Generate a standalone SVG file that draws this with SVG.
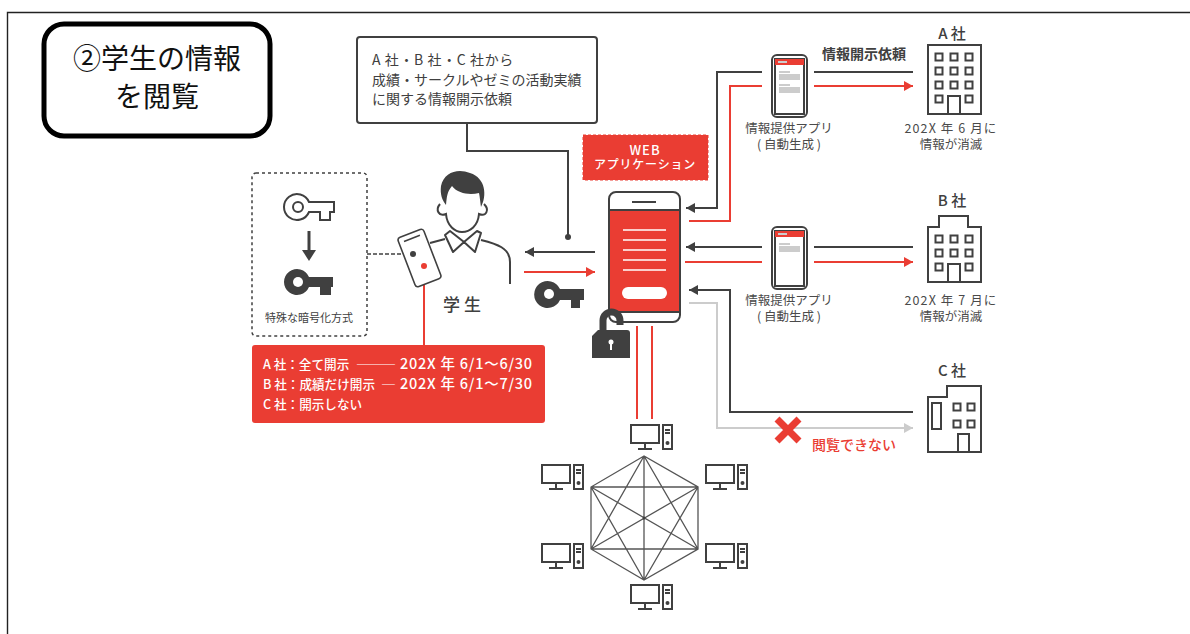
<svg xmlns="http://www.w3.org/2000/svg" width="1190" height="634" viewBox="0 0 1190 634">
<style>
text{font-family:"Noto Sans CJK JP","Noto Sans",sans-serif;fill:#404040}
.c{text-anchor:middle}
.d{fill:none;stroke:#404040;stroke-width:2}
.r{fill:none;stroke:#ea3d33;stroke-width:2}
.g{fill:none;stroke:#cccccc;stroke-width:2}
.w{fill:#fff;stroke:#404040;stroke-width:2}
.f{fill:#404040}
.rf{fill:#ea3d33}
.l{font-size:12.5px;fill:#4a4a4a}
.n{font-size:15px;font-weight:500}
.wt{fill:#fff;font-size:12.6px;font-weight:500}
.dt{fill:#fff;font-size:14.5px;font-weight:500;letter-spacing:.75px}
</style>
<defs>
<symbol id="pc" overflow="visible"><rect class="d" x="1" y="1" width="28" height="18"/><path class="d" d="M15 19v6M8 25h14"/><rect class="d" x="33" y="1" width="9" height="24"/><path class="d" d="M35 6h5M35 9h5" stroke-width="1.5"/><circle cx="37.5" cy="19" r="2" class="f"/></symbol>
<g id="win"><rect class="d" x="-3.5" y="-3.5" width="7" height="7"/></g>
<marker id="ad" markerWidth="10" markerHeight="10" refX="9" refY="5" orient="auto" markerUnits="userSpaceOnUse"><path d="M0 0L9 5L0 10z" fill="#404040"/></marker>
<marker id="ar" markerWidth="10" markerHeight="10" refX="9" refY="5" orient="auto" markerUnits="userSpaceOnUse"><path d="M0 0L9 5L0 10z" fill="#ea3d33"/></marker>
<marker id="ag" markerWidth="10" markerHeight="10" refX="9" refY="5" orient="auto" markerUnits="userSpaceOnUse"><path d="M0 0L9 5L0 10z" fill="#cccccc"/></marker>
</defs>
<rect width="1190" height="634" fill="#fff"/>
<path d="M7.5 634V12.5H1190" fill="none" stroke="#222" stroke-width="1.4"/>

<g id="title"><rect x="44" y="24" width="226" height="112" rx="20" fill="#fff" stroke="#000" stroke-width="5"/>
<text class="c" x="157" y="69" font-size="28" style="fill:#111">②学生の情報</text><text class="c" x="157" y="107" font-size="28" style="fill:#111">を閲覧</text></g>

<g id="connectors">
<path class="d" d="M467 123V151H568V237"/><circle cx="568" cy="237" r="3" class="f"/>
<path class="d" d="M595 252H525" marker-end="url(#ad)"/>
<path class="r" d="M524 272H595" marker-end="url(#ar)"/>
<path class="d" d="M762 72H717V208H686" marker-end="url(#ad)"/>
<path class="r" d="M689 221H730V86H762"/>
<path class="d" d="M762 247H686" marker-end="url(#ad)"/>
<path class="r" d="M685 262H762"/>
<path class="d" d="M814 72H913"/>
<path class="r" d="M814 86H913" marker-end="url(#ar)"/>
<path class="d" d="M814 247H913"/>
<path class="r" d="M814 262H913" marker-end="url(#ar)"/>
<path class="d" d="M913 412H730V290H689" marker-end="url(#ad)"/>
<path class="g" d="M689 303H717V428H913" marker-end="url(#ag)"/>
<path class="r" d="M637 326V419M652 326V419"/>
<path d="M367 254H413" fill="none" stroke="#404040" stroke-width="1.5" stroke-dasharray="4 2"/>
<path class="r" d="M424 266V345"/>
</g>

<g id="request"><rect class="w" x="357" y="37" width="240" height="86" rx="3"/>
<text x="372" y="65" font-size="14" letter-spacing=".6">A 社・B 社・C 社から</text><text x="372" y="85" font-size="14">成績・サークルやゼミの活動実績</text><text x="372" y="104" font-size="14">に関する情報開示依頼</text></g>

<g id="encryption"><rect x="252" y="173" width="115" height="163" rx="4" fill="none" stroke="#404040" stroke-width="1.5" stroke-dasharray="3 3"/>
<path class="d" d="M309 202H334V212H330V220H320V212H309A13 13 0 1 1 309 202Z"/><circle class="d" cx="298" cy="207" r="5"/>
<path d="M309 231V250" stroke="#404040" stroke-width="3"/><path d="M302 250H316L309 261Z" class="f"/>
<path class="f" d="M309 277H333V287H331V295H320V287H309A13 13 0 1 1 309 277Z"/><circle cx="298" cy="282" r="5" fill="#fff"/>
<text class="c" x="309" y="322" font-size="11">特殊な暗号化方式</text></g>

<g id="student">
<path class="d" d="M440 204C435 210 439 217 446 214C447 226 455 232 462 232C470 232 478 226 479 214C486 217 490 210 484 204"/>
<path class="f" d="M446 205C447 196 447 192 452 186C458 194 470 195 479 193C480 198 480 200 481 207C487 196 486 178 470 173C458 168 444 172 441 186C440 194 442 200 446 205Z"/>
<path class="d" stroke-linejoin="round" d="M450 231L445 235L453 252L464 242L475 252L481 233L477 231L464 242Z"/>
<path class="d" d="M430 243L445 239M481 240C497 244 510 248 510 262V284"/>
<g transform="rotate(-21 419.500 258)"><rect x="405.750" y="231.700" width="27.500" height="52.600" rx="3" fill="#fff" stroke="#404040" stroke-width="1.600"/><path d="M411 237H428" stroke="#404040" stroke-width="1.600" fill="none"/></g>
<circle cx="413" cy="254" r="3" class="f"/><circle cx="424" cy="266" r="3" class="rf"/>
<text class="c" x="464" y="311" font-size="17" font-weight="500" letter-spacing="4">学生</text></g>

<g id="disclosure"><rect class="rf" x="252" y="345" width="293" height="78" rx="3"/>
<text class="wt" x="263" y="369">A 社：全て開示</text><text class="wt" x="356" y="369" textLength="40" lengthAdjust="spacingAndGlyphs">―――</text><text class="dt" x="400" y="369">202X 年 6/1～6/30</text>
<text class="wt" x="263" y="389">B 社：成績だけ開示</text><text class="wt" x="381" y="389" textLength="15" lengthAdjust="spacingAndGlyphs">―</text><text class="dt" x="400" y="389">202X 年 6/1～7/30</text>
<text class="wt" x="263" y="409">C 社：開示しない</text></g>

<g id="webapp"><rect class="rf" x="583" y="135" width="125" height="45" stroke="#ea3d33" stroke-dasharray="3 2" fill="#ea3d33"/>
<text class="c wt" x="645" y="155" style="font-size:13px" letter-spacing="1">WEB</text><text class="c wt" x="645" y="169" style="font-size:12px" letter-spacing=".8">アプリケーション</text>
<rect class="w" x="609" y="192" width="71" height="130" rx="7"/><rect class="rf" x="610" y="210" width="69" height="102"/><path class="d" d="M609 210H680M609 312H680M632 202H656" stroke-width="1.500"/>
<path d="M623 230H666M623 240H666M623 250H666M623 260H666M623 270H666" stroke="#fff" stroke-width="1.500"/>
<rect x="622" y="287" width="45" height="12" rx="6" fill="#fff"/>
</g>

<g id="bigkey"><path class="f" d="M560 289H584V300H580V308H571V300H560A13.500 13.500 0 1 1 560 289Z"/><circle cx="549" cy="294" r="5" fill="#fff"/></g>
<g id="lock"><path d="M603 332V320.500A8.500 8.500 0 0 1 620 320.500V325" fill="none" stroke="#404040" stroke-width="7"/><path class="f" d="M592 336L598 330H627Q630 330 630 333V358H592Z"/><circle cx="611" cy="342" r="2.500" fill="#fff"/><path d="M611 342V350" stroke="#fff" stroke-width="2"/></g>

<g id="app1"><rect class="w" x="772" y="55" width="35" height="62" rx="5"/><rect class="w" x="775" y="59" width="29" height="55"/><rect class="rf" x="775" y="59" width="29" height="6"/><rect x="778" y="61" width="9" height="2" fill="#ccc"/><rect x="779" y="71" width="11" height="2" fill="#ccc"/><rect x="779" y="74" width="21" height="6" fill="#ccc"/><rect x="779" y="84" width="11" height="2" fill="#ccc"/><rect x="779" y="87" width="21" height="6" fill="#ccc"/>
<text class="c l" x="789" y="133">情報提供アプリ</text><text class="c l" x="789" y="149">( 自動生成 )</text></g>
<g id="app2"><rect class="w" x="772" y="227" width="35" height="62" rx="5"/><rect class="w" x="775" y="231" width="29" height="55"/><rect class="rf" x="775" y="231" width="29" height="6"/><rect x="778" y="233" width="9" height="2" fill="#ccc"/><rect x="779" y="243" width="11" height="2" fill="#ccc"/><rect x="779" y="246" width="21" height="6" fill="#ccc"/>
<text class="c l" x="789" y="305">情報提供アプリ</text><text class="c l" x="789" y="321">( 自動生成 )</text></g>
<text class="c" x="864" y="59" font-size="14" font-weight="700">情報開示依頼</text>

<g id="companyA"><text class="c n" x="952" y="39">A 社</text><rect class="d" x="928" y="45" width="53" height="69"/>
<use href="#win" x="939" y="57"/><use href="#win" x="954" y="57"/><use href="#win" x="969" y="57"/><use href="#win" x="939" y="71"/><use href="#win" x="954" y="71"/><use href="#win" x="969" y="71"/><use href="#win" x="939" y="85"/><use href="#win" x="954" y="85"/><use href="#win" x="969" y="85"/><use href="#win" x="939" y="99"/><use href="#win" x="969" y="99"/><path class="d" d="M948 114V96H960V114"/>
<text class="c l" x="951" y="133" letter-spacing="1.100">202X 年 6 月に</text><text class="c l" x="951" y="149">情報が消滅</text></g>
<g id="companyB"><text class="c n" x="952" y="206">B 社</text><path class="d" d="M928 282V227H939V216H968V227H981V282Z"/>
<use href="#win" x="939" y="239"/><use href="#win" x="954" y="239"/><use href="#win" x="969" y="239"/><use href="#win" x="939" y="253"/><use href="#win" x="954" y="253"/><use href="#win" x="969" y="253"/><use href="#win" x="939" y="267"/><use href="#win" x="969" y="267"/><path class="d" d="M948 282V264H960V282"/>
<text class="c l" x="951" y="305" letter-spacing="1.100">202X 年 7 月に</text><text class="c l" x="951" y="321">情報が消滅</text></g>
<g id="companyC"><text class="c n" x="952" y="376">C 社</text><path class="d" d="M928 452V397H947V386H981V452Z"/><rect class="d" x="932" y="403" width="9" height="26"/>
<use href="#win" x="957" y="407"/><use href="#win" x="971" y="407"/><use href="#win" x="957" y="424"/><use href="#win" x="971" y="424"/><path class="d" d="M958 452V434H969V452"/></g>
<g id="denied"><path d="M777 419L799 441M799 419L777 441" stroke="#ea3d33" stroke-width="7" fill="none"/><text class="c" x="854" y="450" font-size="14" font-weight="500" style="fill:#ea3d33">閲覧できない</text></g>

<g id="network"><path d="M644 456L591 487L591 549L644 580L698 549L698 487ZM644 456L591 549M644 456L644 580M644 456L698 549M591 487L698 487M591 487L644 580M591 487L698 549M698 487L591 549M698 487L644 580M591 549L698 549" fill="none" stroke="#555" stroke-width="1.300"/>
<circle cx="644" cy="518" r="1.500" class="f"/>
<use href="#pc" x="630" y="424"/><use href="#pc" x="541" y="464"/><use href="#pc" x="705" y="464"/><use href="#pc" x="541" y="543"/><use href="#pc" x="705" y="543"/><use href="#pc" x="630" y="584"/></g>
</svg>
